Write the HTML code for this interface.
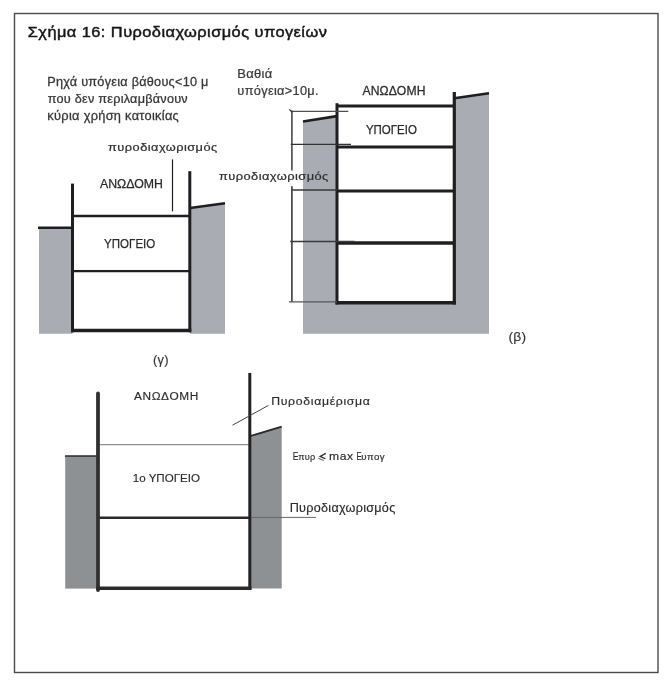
<!DOCTYPE html>
<html><head><meta charset="utf-8"><style>
html,body{margin:0;padding:0;background:#fff;width:667px;height:683px;overflow:hidden}
svg{display:block;font-family:"Liberation Sans",sans-serif}
</style></head><body>
<svg width="667" height="683" viewBox="0 0 667 683">
<rect x="14.5" y="13.5" width="643.5" height="659" fill="none" stroke="#4a4a4a" stroke-width="1.4"/>
<polygon points="39,228 72.5,228 72.5,333.8 39,333.8" fill="#a9acb3"/>
<polygon points="190,208 225,203.3 225,333.8 190,333.8" fill="#a9acb3"/>
<line x1="38" y1="227.7" x2="72.5" y2="227.7" stroke="#1f1f23" stroke-width="2.6"/>
<line x1="190" y1="208" x2="225" y2="203.3" stroke="#1f1f23" stroke-width="2.6"/>
<line x1="72.5" y1="183.6" x2="72.5" y2="332.3" stroke="#1f1f23" stroke-width="3"/>
<line x1="189.8" y1="171.2" x2="189.8" y2="332.3" stroke="#1f1f23" stroke-width="3"/>
<line x1="72.5" y1="216" x2="189.8" y2="216" stroke="#1f1f23" stroke-width="2.7"/>
<line x1="72.5" y1="271.2" x2="189.8" y2="271.2" stroke="#1f1f23" stroke-width="2.2"/>
<line x1="71" y1="330.5" x2="191.3" y2="330.5" stroke="#1f1f23" stroke-width="3.6"/>
<line x1="172.5" y1="159.4" x2="172.5" y2="211.4" stroke="#1f1f23" stroke-width="1.2"/>
<polygon points="303,121 337,115.8 337,302 454.3,302 454.3,98.3 489,93.2 489,333.7 303,333.7" fill="#a9acb3"/>
<line x1="303" y1="121.5" x2="337" y2="116.1" stroke="#1f1f23" stroke-width="2.6"/>
<line x1="454.3" y1="98.3" x2="489" y2="93.2" stroke="#1f1f23" stroke-width="2.6"/>
<line x1="337" y1="103.2" x2="337" y2="304.5" stroke="#1f1f23" stroke-width="3"/>
<line x1="454.3" y1="92" x2="454.3" y2="304.5" stroke="#1f1f23" stroke-width="3.2"/>
<line x1="337" y1="106" x2="454.3" y2="106" stroke="#1f1f23" stroke-width="3"/>
<line x1="337" y1="147.1" x2="454.3" y2="147.1" stroke="#1f1f23" stroke-width="3"/>
<line x1="337" y1="191.1" x2="454.3" y2="191.1" stroke="#1f1f23" stroke-width="3"/>
<line x1="337" y1="243.1" x2="454.3" y2="243.1" stroke="#1f1f23" stroke-width="3.5"/>
<line x1="335.5" y1="302.7" x2="455.9" y2="302.7" stroke="#1f1f23" stroke-width="3.5"/>
<line x1="291.9" y1="110.6" x2="291.9" y2="170.5" stroke="#484848" stroke-width="1.6"/>
<line x1="291.9" y1="186.2" x2="291.9" y2="301.8" stroke="#3a3a3a" stroke-width="1.6"/>
<line x1="290.8" y1="111.4" x2="348.3" y2="111.4" stroke="#505050" stroke-width="1.3"/>
<line x1="290.8" y1="144.4" x2="351" y2="144.4" stroke="#333" stroke-width="1.3"/>
<line x1="291.7" y1="190" x2="337" y2="190" stroke="#3a3a3a" stroke-width="1.3"/>
<line x1="290.2" y1="241.5" x2="354.4" y2="241.5" stroke="#3a3a3a" stroke-width="1.3"/>
<line x1="289" y1="301.8" x2="337" y2="301.8" stroke="#555" stroke-width="1.3"/>
<line x1="289.3" y1="109.3" x2="292.3" y2="112.3" stroke="#333" stroke-width="1.2"/>
<rect x="65.2" y="456" width="33" height="132.6" fill="#8e9194"/>
<polygon points="249.8,436.2 281.7,426.7 281.7,588.5 249.8,588.5" fill="#8e9194"/>
<line x1="65" y1="456" x2="98" y2="456" stroke="#2a2a2a" stroke-width="1.5"/>
<line x1="250" y1="436.2" x2="281.7" y2="426.7" stroke="#2a2a2a" stroke-width="1.8"/>
<line x1="98" y1="444.7" x2="249.8" y2="444.7" stroke="#777" stroke-width="1"/>
<line x1="98" y1="517.7" x2="249.8" y2="517.7" stroke="#2a2a2a" stroke-width="2.5"/>
<line x1="249.8" y1="517.4" x2="316" y2="517.4" stroke="#666" stroke-width="1"/>
<line x1="98" y1="393.5" x2="98" y2="590" stroke="#303030" stroke-width="3.8" stroke-linecap="round"/>
<line x1="249.8" y1="373" x2="249.8" y2="590" stroke="#222" stroke-width="3"/>
<line x1="96.2" y1="588.3" x2="251.5" y2="588.3" stroke="#2a2a2a" stroke-width="3.4"/>
<line x1="232.5" y1="425.2" x2="268.4" y2="405.4" stroke="#444" stroke-width="1"/>
<g font-family="Liberation Sans, sans-serif" style="will-change:transform">
<text transform="translate(27.78,36.60) scale(1.0788,1)" x="0" y="0" font-size="15.2" fill="#151515" stroke="#151515" stroke-width="0.45" letter-spacing="0.413">Σχήμα 16: Πυροδιαχωρισμός υπογείων</text>
<text transform="translate(47.18,86.00) scale(1.0581,1)" x="0" y="0" font-size="12.0" fill="#353535" stroke="#353535" stroke-width="0.25" letter-spacing="0.242">Ρηχά υπόγεια βάθους&lt;10 μ</text>
<text transform="translate(47.69,102.70) scale(1.0568,1)" x="0" y="0" font-size="12.0" fill="#353535" stroke="#353535" stroke-width="0.25" letter-spacing="0.238">που δεν περιλαμβάνουν</text>
<text transform="translate(47.37,119.50) scale(1.0702,1)" x="0" y="0" font-size="12.0" fill="#353535" stroke="#353535" stroke-width="0.25" letter-spacing="0.269">κύρια χρήση κατοικίας</text>
<text transform="translate(108.09,150.90) scale(1.1006,1)" x="0" y="0" font-size="11.6" fill="#2e2e2e" stroke="#2e2e2e" stroke-width="0.22" letter-spacing="0.435">πυροδιαχωρισμός</text>
<text x="100.00" y="188.00" font-size="12.6" fill="#2a2a2a" stroke="#2a2a2a" stroke-width="0.25" textLength="63.01" lengthAdjust="spacingAndGlyphs">ΑΝΩΔΟΜΗ</text>
<text x="104.11" y="248.20" font-size="12.6" fill="#2a2a2a" stroke="#2a2a2a" stroke-width="0.25" textLength="51.11" lengthAdjust="spacingAndGlyphs">ΥΠΟΓΕΙΟ</text>
<text transform="translate(153.02,363.60) scale(1.0430,1)" x="0" y="0" font-size="12.4" fill="#333" stroke="#333" stroke-width="0.15" letter-spacing="0.184">(γ)</text>
<text transform="translate(237.16,77.50) scale(1.0649,1)" x="0" y="0" font-size="12.2" fill="#383838" stroke="#383838" stroke-width="0.22" letter-spacing="0.326">Βαθιά</text>
<text transform="translate(237.37,94.60) scale(1.0663,1)" x="0" y="0" font-size="12.0" fill="#383838" stroke="#383838" stroke-width="0.22" letter-spacing="0.283">υπόγεια&gt;10μ.</text>
<text transform="translate(362.40,94.80) scale(1.0217,1)" x="0" y="0" font-size="11.9" fill="#2a2a2a" stroke="#2a2a2a" stroke-width="0.25" letter-spacing="0.144">ΑΝΩΔΟΜΗ</text>
<text x="365.91" y="134.00" font-size="11.9" fill="#2a2a2a" stroke="#2a2a2a" stroke-width="0.25" textLength="51.01" lengthAdjust="spacingAndGlyphs">ΥΠΟΓΕΙΟ</text>
<text transform="translate(218.88,179.60) scale(1.0918,1)" x="0" y="0" font-size="11.8" fill="#2e2e2e" stroke="#2e2e2e" stroke-width="0.22" letter-spacing="0.404">πυροδιαχωρισμός</text>
<text transform="translate(508.57,341.00) scale(1.0313,1)" x="0" y="0" font-size="13.4" fill="#333" stroke="#333" stroke-width="0.15" letter-spacing="0.156">(β)</text>
<text transform="translate(134.00,399.70) scale(1.0954,1)" x="0" y="0" font-size="10.8" fill="#2a2a2a" stroke="#2a2a2a" stroke-width="0.15" letter-spacing="0.568">ΑΝΩΔΟΜΗ</text>
<text x="132.83" y="482.30" font-size="11.6" fill="#2a2a2a" stroke="#2a2a2a" stroke-width="0.15" textLength="67.12" lengthAdjust="spacingAndGlyphs">1ο ΥΠΟΓΕΙΟ</text>
<text transform="translate(271.22,404.60) scale(1.1552,1)" x="0" y="0" font-size="10.6" fill="#2a2a2a" stroke="#2a2a2a" stroke-width="0.15" letter-spacing="0.595">Πυροδιαμέρισμα</text>
<text transform="translate(289.69,511.80) scale(1.0611,1)" x="0" y="0" font-size="11.9" fill="#2a2a2a" stroke="#2a2a2a" stroke-width="0.15" letter-spacing="0.272">Πυροδιαχωρισμός</text>
<text x="292.81" y="459.50" font-size="10.8" fill="#2a2a2a" stroke="#2a2a2a" stroke-width="0.15" textLength="5.75" lengthAdjust="spacingAndGlyphs">E</text>
<text transform="translate(298.23,459.50) scale(1.0259,1)" x="0" y="0" font-size="9.0" fill="#2a2a2a" stroke="#2a2a2a" stroke-width="0.15" letter-spacing="0.133">πυρ</text>
<path d="M325.8,453.4 L320.1,456.4 L325.4,458.7" fill="none" stroke="#2a2a2a" stroke-width="1.25"/><path d="M318.4,458.3 L323.8,460.6" fill="none" stroke="#666" stroke-width="1.1"/>
<text transform="translate(329.01,459.60) scale(1.0740,1)" x="0" y="0" font-size="11.3" fill="#2a2a2a" stroke="#2a2a2a" stroke-width="0.15" letter-spacing="0.500">max</text>
<text x="356.57" y="459.50" font-size="10.6" fill="#2a2a2a" stroke="#2a2a2a" stroke-width="0.15" textLength="5.26" lengthAdjust="spacingAndGlyphs">E</text>
<text transform="translate(361.37,459.50) scale(1.0768,1)" x="0" y="0" font-size="9.0" fill="#2a2a2a" stroke="#2a2a2a" stroke-width="0.15" letter-spacing="0.335">υπογ</text>
</g>
</svg>
</body></html>
